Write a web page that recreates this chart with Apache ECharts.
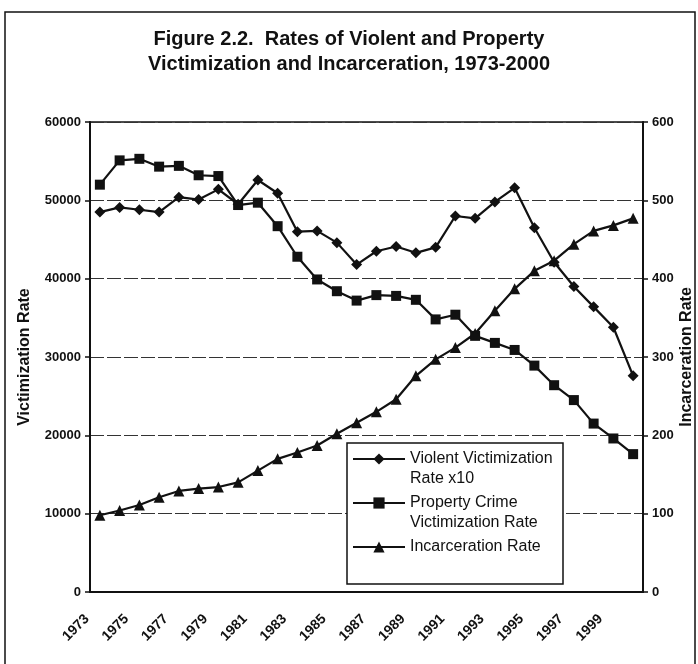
<!DOCTYPE html>
<html>
<head>
<meta charset="utf-8">
<script src="https://cdn.jsdelivr.net/npm/echarts@6/dist/echarts.min.js"></script>
<style>
  html, body { margin: 0; padding: 0; background: #fff; }
  #main { width: 698px; height: 664px; }
</style>
</head>
<body>
<div id="main"></div>
<script>
// years on the category axis
var years = ['1973', '1974', '1975', '1976', '1977', '1978', '1979', '1980', '1981', '1982',
  '1983', '1984', '1985', '1986', '1987', '1988', '1989', '1990', '1991', '1992',
  '1993', '1994', '1995', '1996', '1997', '1998', '1999', '2000'];

// violent victimization rate x10 (left axis)
var violent = [48500, 49100, 48800, 48500, 50400, 50100, 51400, 49500, 52600, 50900,
  46000, 46100, 44600, 41800, 43500, 44100, 43300, 44000, 48000, 47700,
  49800, 51600, 46500, 42100, 39000, 36400, 33800, 27600];

// property crime victimization rate (left axis)
var property = [52000, 55100, 55300, 54300, 54400, 53200, 53100, 49400, 49700, 46700,
  42800, 39900, 38400, 37200, 37900, 37800, 37300, 34800, 35400, 32700,
  31800, 30900, 28900, 26400, 24500, 21500, 19600, 17600];

// incarceration rate (right axis)
var incarceration = [98, 104, 111, 121, 129, 132, 134, 140, 155, 170,
  178, 187, 202, 216, 230, 246, 276, 297, 312, 330,
  359, 387, 410, 423, 444, 461, 468, 477];

// legend wording, split on lines like the original; the leading empty line
// keeps the first text line level with the icon
var legendText = {
  'Violent Victimization Rate x10': '\nViolent Victimization\nRate x10',
  'Property Crime Victimization Rate': '\nProperty Crime\nVictimization Rate',
  'Incarceration Rate': '\nIncarceration Rate\n'
};

var font = "'Liberation Sans', Arial, sans-serif";

var myChart = echarts.init(document.getElementById('main'));

var option = {
  animation: false,
  backgroundColor: '#fff',
  textStyle: { fontFamily: font, color: '#000' },
  title: {
    text: 'Figure 2.2.  Rates of Violent and Property\nVictimization and Incarceration, 1973-2000',
    left: 'center',
    top: 22,
    textStyle: { fontSize: 20, fontWeight: 'bold', lineHeight: 25, color: '#111', fontFamily: font }
  },
  graphic: [
    { type: 'rect', z: 0, shape: { x: 5, y: 12, width: 690, height: 680 },
      style: { fill: 'none', stroke: '#111', lineWidth: 1.5 } },
    { type: 'rect', z: 3, shape: { x: 347, y: 443, width: 216, height: 141 },
      style: { fill: '#fff', stroke: '#111', lineWidth: 1.5 } }
  ],
  legend: {
    orient: 'vertical',
    left: 352,
    top: 429,
    padding: 0,
    z: 6,
    itemWidth: 52,
    itemHeight: 14,
    itemGap: -16,
    formatter: function (name) { return legendText[name]; },
    textStyle: { fontSize: 16, lineHeight: 20, color: '#111', fontFamily: font },
    data: ['Violent Victimization Rate x10', 'Property Crime Victimization Rate', 'Incarceration Rate']
  },
  grid: {
    left: 90, right: 55, top: 122, bottom: 72,
    outerBoundsMode: 'none',
    containLabel: false,
    show: true, borderColor: '#111', borderWidth: 1.5
  },
  xAxis: {
    type: 'category',
    data: years,
    boundaryGap: true,
    axisLine: { lineStyle: { color: '#111', width: 2 } },
    axisTick: { interval: 0, length: 5, inside: false, lineStyle: { color: '#111', width: 1.5 } },
    axisLabel: {
      interval: 1, rotate: 45, margin: 12, fontSize: 14, fontWeight: 'bold',
      color: '#111', padding: [0, 18, 0, 0], fontFamily: font
    }
  },
  yAxis: [{
    type: 'value',
    min: 0, max: 60000, interval: 10000,
    name: 'Victimization Rate',
    nameLocation: 'middle',
    nameGap: 57,
    nameMoveOverlap: false,
    nameTextStyle: { fontSize: 16, fontWeight: 'bold', color: '#111', fontFamily: font },
    axisLine: { show: true, lineStyle: { color: '#111', width: 2 } },
    axisTick: { show: true, length: 5, lineStyle: { color: '#111', width: 1.5 } },
    axisLabel: {
      margin: 9, fontSize: 13, fontWeight: 'bold', color: '#111', fontFamily: font,
      formatter: function (v) { return String(v); }
    },
    splitLine: { show: true, lineStyle: { color: '#333', width: 1, type: [14, 3] } }
  }, {
    type: 'value',
    min: 0, max: 600, interval: 100,
    name: 'Incarceration Rate',
    nameLocation: 'middle',
    nameGap: 36,
    nameMoveOverlap: false,
    nameTextStyle: { fontSize: 16, fontWeight: 'bold', color: '#111', fontFamily: font },
    axisLine: { show: true, lineStyle: { color: '#111', width: 2 } },
    axisTick: { show: true, length: 5, lineStyle: { color: '#111', width: 1.5 } },
    axisLabel: {
      margin: 9, fontSize: 13, fontWeight: 'bold', color: '#111', fontFamily: font,
      formatter: function (v) { return String(v); }
    },
    splitLine: { show: false }
  }],
  series: [{
    name: 'Violent Victimization Rate x10',
    type: 'line',
    yAxisIndex: 0,
    data: violent,
    symbol: 'diamond',
    symbolSize: 11,
    z: 4,
    lineStyle: { color: '#111', width: 2.2 },
    itemStyle: { color: '#111' }
  }, {
    name: 'Property Crime Victimization Rate',
    type: 'line',
    yAxisIndex: 0,
    data: property,
    symbol: 'rect',
    symbolSize: 10,
    z: 4,
    lineStyle: { color: '#111', width: 2.2 },
    itemStyle: { color: '#111' }
  }, {
    name: 'Incarceration Rate',
    type: 'line',
    yAxisIndex: 1,
    data: incarceration,
    symbol: 'triangle',
    symbolSize: 11,
    z: 4,
    lineStyle: { color: '#111', width: 2.2 },
    itemStyle: { color: '#111' }
  }]
};

myChart.setOption(option);
</script>
</body>
</html>
